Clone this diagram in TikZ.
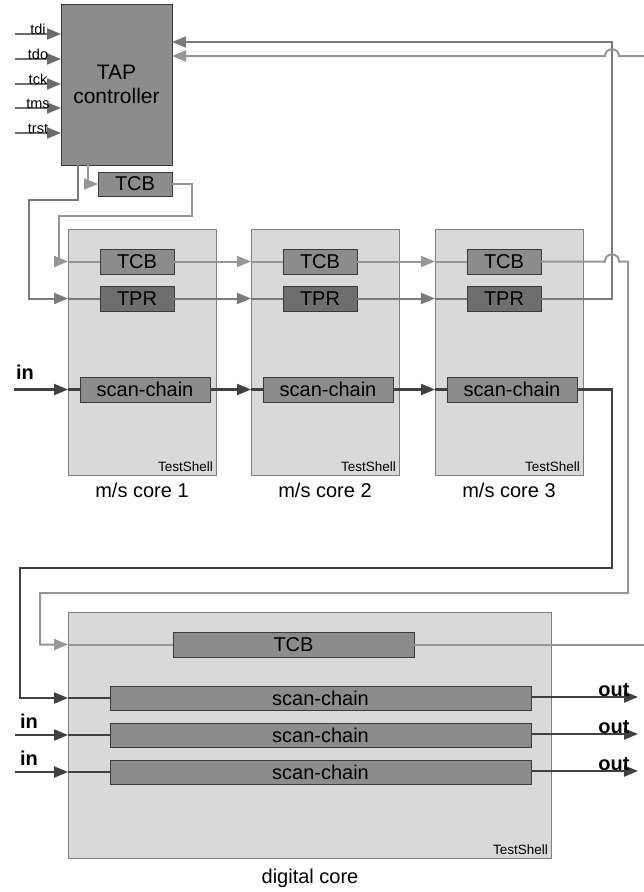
\documentclass[tikz,border=0pt]{standalone}
\usepackage{fontspec}
\setmainfont{Liberation Sans}
\usetikzlibrary{arrows.meta}
\definecolor{shellfill}{HTML}{D9D9D9}
\definecolor{shellline}{HTML}{808080}
\definecolor{blkfill}{HTML}{8C8C8C}
\definecolor{tprfill}{HTML}{6E6E6E}
\definecolor{blkline}{HTML}{3A3A3A}
\definecolor{wtcbcol}{HTML}{969696}
\definecolor{wtprcol}{HTML}{7A7A7A}
\definecolor{wsccol}{HTML}{404040}
\definecolor{wincol}{HTML}{6B6B6B}
\begin{document}
\begin{tikzpicture}[x=1pt,y=-1pt,
  shell/.style={draw=shellline, fill=shellfill, line width=1pt, inner sep=0pt, outer sep=0pt},
  blk/.style={draw=blkline, fill=blkfill, line width=0.9pt, inner sep=0pt, outer sep=0pt, font=\fontsize{20}{23}\selectfont},
  tprblk/.style={blk, fill=tprfill},
  wtcb/.style={draw=wtcbcol, line width=2pt},
  wtpr/.style={draw=wtprcol, line width=2pt},
  wsc/.style={draw=wsccol, line width=2.2pt},
  win/.style={draw=wincol, line width=2pt},
  tip/.style={-{Triangle[length=14pt,width=11pt]}},
  smlab/.style={inner sep=0pt, font=\fontsize{14.5}{16}\selectfont},
  tslab/.style={inner sep=0pt, font=\fontsize{13.5}{15}\selectfont},
  corelab/.style={inner sep=0pt, font=\fontsize{20}{23}\selectfont},
  iolab/.style={inner sep=0pt, font=\fontsize{20}{23}\selectfont\bfseries}
]
\useasboundingbox (0,0) rectangle (644,892);
\fill[white] (0,0) rectangle (644,892);

% TAP controller
\node[blk, align=center, minimum width=111pt, minimum height=161pt, font=\fontsize{21}{24}\selectfont] (tap) at (116.5,84.5) {TAP\\controller};
\node[blk, minimum width=74pt, minimum height=24pt] (tcb0) at (135,184) {TCB};

% m/s cores
\foreach \i/\cx in {1/142,2/325,3/509} {
  \node[shell, minimum width=148pt, minimum height=246pt] (shell\i) at (\cx,352) {};
  \node[blk, minimum width=74pt, minimum height=25pt] (tcb\i) at (\cx-5,261.5) {TCB};
  \node[tprblk, minimum width=74pt, minimum height=25pt] (tpr\i) at (\cx-5,298.5) {TPR};
  \node[blk, minimum width=130pt, minimum height=25pt] (sc\i) at (\cx+3,389.5) {scan-chain};
  \node[tslab, anchor=base east] (ts\i) at (\cx+71,471) {TestShell};
  \node[corelab] (cl\i) at (\cx,490) {m/s core \i};
}

% digital core
\node[shell, minimum width=483pt, minimum height=246pt] (dshell) at (309.5,735) {};
\node[blk, minimum width=241pt, minimum height=25pt] (dtcb) at (293.5,644.5) {TCB};
\foreach \i/\yy in {1/698,2/735,3/772} {
  \node[blk, minimum width=421pt, minimum height=24pt] (dsc\i) at (320.5,\yy) {scan-chain};
}
\node[tslab, anchor=base east] (tsd) at (548,854) {TestShell};
\node[corelab] (dlab) at (310,878) {digital core};

% TAP inputs
\foreach \n/\yy in {tdi/34,tdo/59,tck/84,tms/108,trst/133} {
  \coordinate (in\n) at (15,\yy);
  \draw[win,tip] (in\n) -- (tap.west |- in\n);
  \node[smlab, anchor=base] (l\n) at (38,\yy+0.5) {\n};
}

% TAP -> TPR chain
\coordinate (ca) at (78,200);
\draw[wtpr,tip] (ca |- tap.south) -- (ca) -| (29,298.5) -- (shell1.west |- tpr1.west);
% TAP -> TCB
\coordinate (cb) at (88,184);
\draw[wtcb,tip] (cb |- tap.south) -- (cb) -- (tcb0.west);
% TCB -> core1 TCB
\draw[wtcb,tip] (tcb0.east) -| (192,216) -| (59,261.5) -- (shell1.west |- tcb1.west);

% core 1 scan input
\coordinate (inA) at (14,389.5);
\draw[wsc,tip] (inA) -- (shell1.west |- sc1.west);
\node[iolab, anchor=base] (inlA) at (25,379) {in};

% inner stubs
\foreach \i in {1,2,3} {
  \draw[wtcb] (shell\i.west |- tcb\i.west) -- (tcb\i.west);
  \draw[wtpr] (shell\i.west |- tpr\i.west) -- (tpr\i.west);
  \draw[wsc] (shell\i.west |- sc\i.west) -- (sc\i.west);
}
% core to core
\foreach \a/\b in {1/2,2/3} {
  \draw[wtcb,tip] (tcb\a.east) -- (shell\b.west |- tcb\a.east);
  \draw[wtpr,tip] (tpr\a.east) -- (shell\b.west |- tpr\a.east);
  \draw[wsc,tip] (sc\a.east) -- (shell\b.west |- sc\a.east);
}

% core3 TPR -> TAP
\coordinate (cc) at (612,42);
\draw[wtpr,tip] (tpr3.east) -| (cc) -- (cc -| tap.east);

% return from right edge -> TAP
\coordinate (redge) at (644,56);
\draw[wtcb,tip] (redge) -- (619,56) .. controls (619,47) and (605,47) .. (605,56) -- (tap.east |- redge);

% core3 TCB -> digital TCB
\draw[wtcb,tip] (tcb3.east) -- (605,261.5) .. controls (605,252) and (619,252) .. (619,261.5) -| (628,593) -| (40,644.5) -- (dshell.west |- dtcb.west);
\draw[wtcb] (dshell.west |- dtcb.west) -- (dtcb.west);
\draw[wtcb] (dtcb.east) -- (dtcb.east -| redge);

% core3 scan -> digital scan 1
\draw[wsc,tip] (sc3.east) -| (612,568) -| (20,698) -- (dshell.west |- dsc1.west);
\foreach \i in {1,2,3} {
  \draw[wsc] (dshell.west |- dsc\i.west) -- (dsc\i.west);
}
% digital inputs
\foreach \i/\yy in {2/735,3/772} {
  \coordinate (din\i) at (15,\yy);
  \draw[wsc,tip] (din\i) -- (dshell.west |- din\i);
  \node[iolab, anchor=base] (dinl\i) at (29,\yy-7) {in};
}
% outputs
\foreach \i/\yy in {1/697,2/734,3/771} {
  \coordinate (dout\i) at (638,\yy);
  \draw[wsc,tip] (dsc\i.east |- dout\i) -- (dout\i);
  \node[iolab, anchor=base] (doutl\i) at (614,\yy-1) {out};
}
\end{tikzpicture}
\end{document}
